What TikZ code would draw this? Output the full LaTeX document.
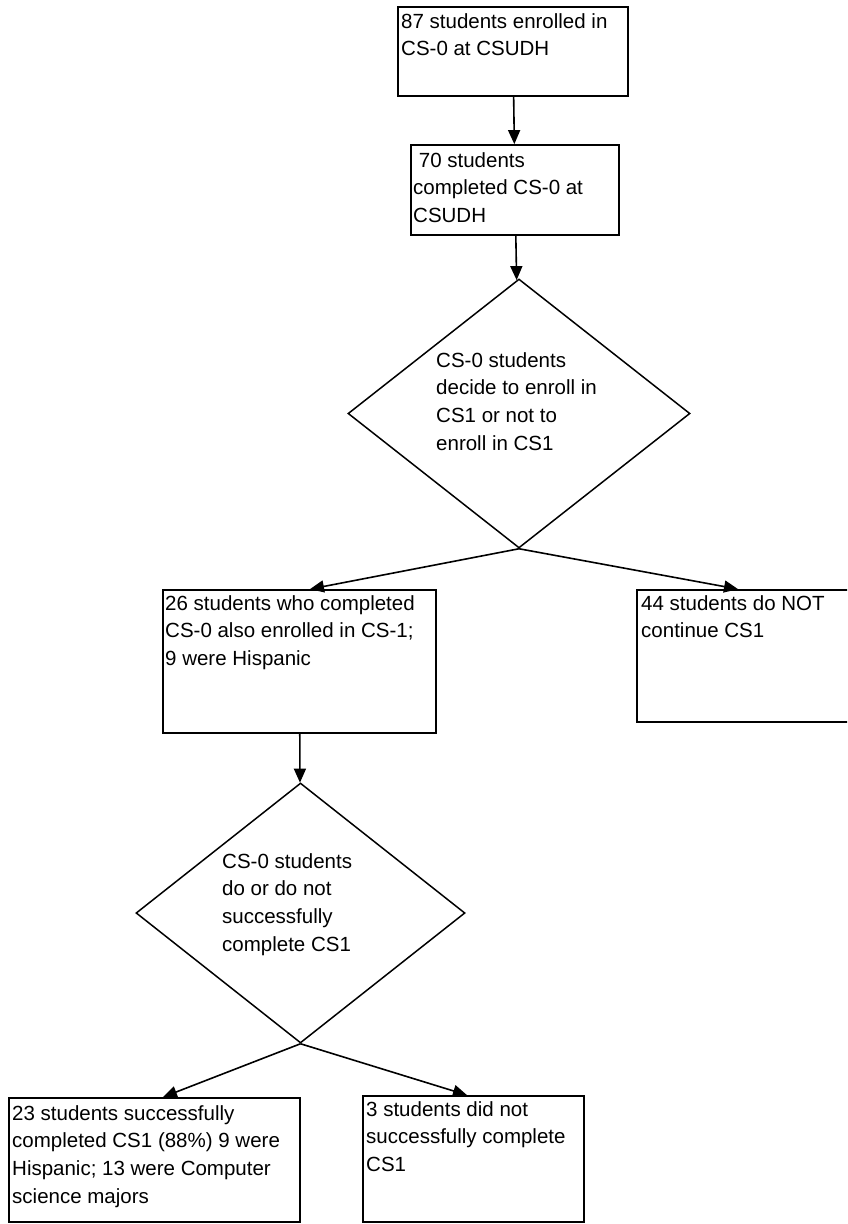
\documentclass[tikz,border=0pt]{standalone}
\usepackage{fontspec}
\setmainfont{Liberation Sans}
\usetikzlibrary{shapes.geometric,arrows.meta}
\begin{document}
\begin{tikzpicture}[x=1pt,y=-1pt,myb/.style={rectangle, draw, line width=1.8pt, inner sep=0pt},myd/.style={diamond, draw, line width=1.5pt, inner sep=0pt},myt/.style={anchor=north west, inner sep=0pt, align=left, font=\fontsize{20.5}{27.7}\selectfont},mya/.style={line width=1.6pt, -{Triangle[length=14pt,width=12pt]}}]
  \path[use as bounding box] (0,0) rectangle (847,1224);
  \clip (0,0) rectangle (847,1224);

  \node[myb, minimum width=230pt, minimum height=89pt] (a) at (513,51.5) {};
  \node[myb, minimum width=208pt, minimum height=90pt] (b) at (515,190) {};
  \node[myd, minimum width=342pt, minimum height=269pt] (d1) at (519,413.5) {};
  \node[myb, minimum width=273pt, minimum height=143pt] (c) at (299.5,661.5) {};
  \node[myb, minimum width=220pt, minimum height=132pt] (d) at (747,656) {};
  \node[myd, minimum width=329pt, minimum height=260pt] (d2) at (300.5,913) {};
  \node[myb, minimum width=291pt, minimum height=124pt] (e) at (154.5,1160) {};
  \node[myb, minimum width=221pt, minimum height=126pt] (f) at (473.5,1159) {};

  \node[myt] (ta) at (401,13) {87 students enrolled in\\CS-0 at CSUDH};
  \node[myt] (tb) at (413,152) {\ 70 students\\completed CS-0 at\\CSUDH};
  \node[myt] (td1) at (436,352) {CS-0 students\\decide to enroll in\\CS1 or not to\\enroll in CS1};
  \node[myt] (tc) at (165,595) {26 students who completed\\CS-0 also enrolled in CS-1;\\9 were Hispanic};
  \node[myt] (td) at (641,595) {44 students do NOT\\continue CS1};
  \node[myt] (td2) at (222,853) {CS-0 students\\do or do not\\successfully\\complete CS1};
  \node[myt] (te) at (12,1105) {23 students successfully\\completed CS1 (88\%) 9 were\\Hispanic; 13 were Computer\\science majors};
  \node[myt] (tf) at (366,1101) {3 students did not\\successfully complete\\CS1};

    \draw[mya] (a) -- (b);
    \draw[mya] (b) -- (d1);
    \draw[mya] (d1.south) -- ([xshift=10.5pt]c.north);
    \draw[mya] (d1.south) -- ([xshift=-9pt]d.north);
    \draw[mya] (c) -- (d2);
    \draw[mya] (d2.south) -- ([xshift=8.5pt]e.north);
    \draw[mya] (d2.south) -- ([xshift=-6.5pt]f.north);

\end{tikzpicture}
\end{document}
